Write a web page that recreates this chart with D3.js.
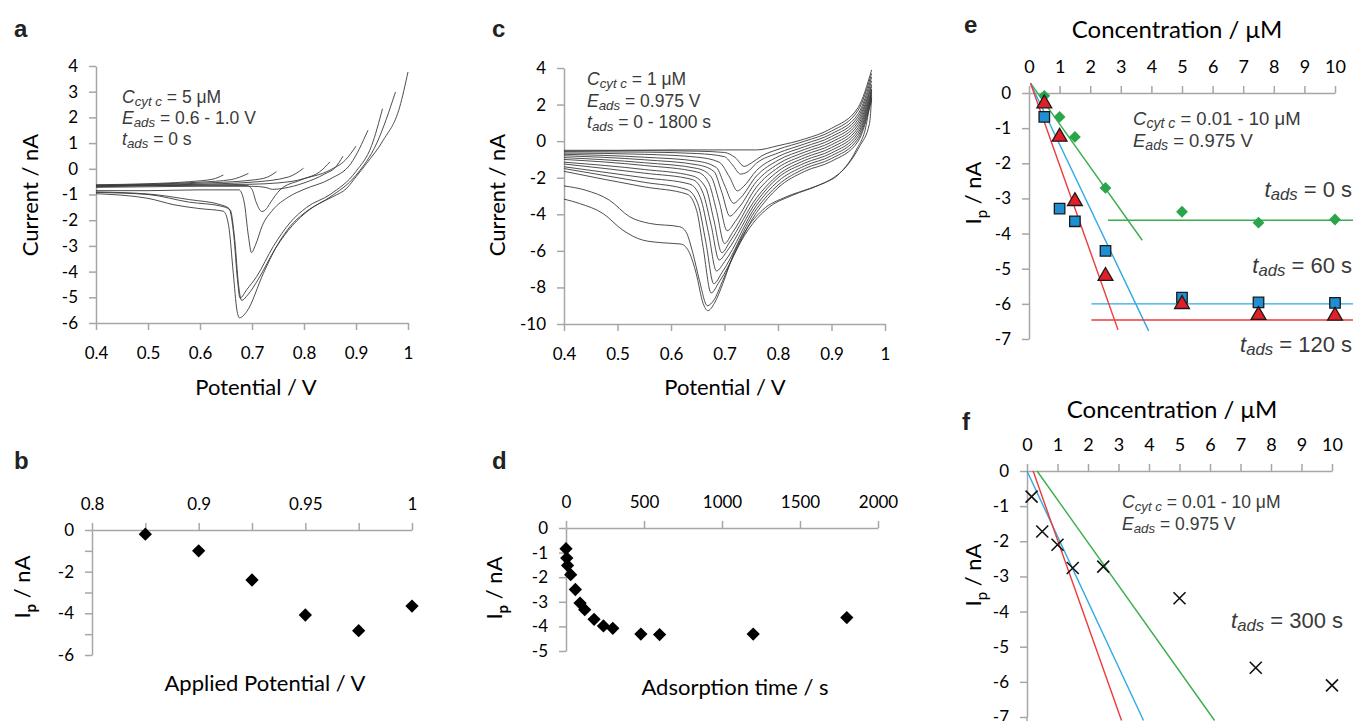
<!DOCTYPE html>
<meta charset="utf-8">
<script src="https://cdn.jsdelivr.net/npm/d3@7"></script>
<style>
body { margin: 0; background: #fff; }
.ax path, .ax line { stroke: #a6a6a6; stroke-width: 1.5px; }
.ax text { font-family: Lato, sans-serif; font-size: 17px; fill: #000; }
.cv { fill: none; stroke: #3a3a3a; stroke-width: 0.9px; }
.ttl { font-family: Lato, sans-serif; font-size: 22px; fill: #000; }
.note { font-family: "Liberation Sans", Arial, sans-serif; fill: #3a3a3a; }
.lbl { font-family: "Liberation Sans", Arial, sans-serif; font-weight: bold; font-size: 24px; fill: #222; }
</style>
<body>
<script>

// ---- panel a : CVs, Eads 0.65 .. 1.0 V (potential V, current nA)
var curvesA = [
  [[0.4,-0.62],[0.5,-0.58],[0.58,-0.5],[0.625,-0.4],[0.645,-0.24]],
  [[0.4,-0.64],[0.5,-0.6],[0.6,-0.52],[0.66,-0.42],[0.693,-0.18]],
  [[0.4,-0.66],[0.5,-0.62],[0.6,-0.56],[0.7,-0.44],[0.73,-0.32],[0.747,-0.11]],
  [[0.4,-0.68],[0.5,-0.64],[0.6,-0.6],[0.7,-0.52],[0.77,-0.32],[0.799,0.02]],
  [[0.4,-0.7],[0.5,-0.66],[0.6,-0.63],[0.7,-0.6],[0.75,-0.55],[0.8,-0.38],[0.83,-0.12],[0.85,0.27]],
  [[0.4,-0.72],[0.5,-0.7],[0.6,-0.68],[0.7,-0.68],[0.725,-0.72],[0.74,-0.8],[0.76,-0.76],[0.8,-0.55],[0.84,-0.2],[0.86,0.05],[0.875,0.49]],
  [[0.4,-0.66],[0.5,-0.65],[0.6,-0.64],[0.69,-0.65],[0.7,-0.8],[0.708,-1.3],[0.719,-1.66],[0.728,-1.55],[0.735,-1.33],[0.754,-0.82],[0.792,-0.45],[0.85,-0.05],[0.88,0.35],[0.9,0.88]],
  [[0.4,-0.85],[0.5,-0.85],[0.6,-0.82],[0.675,-0.82],[0.685,-1.3],[0.693,-2.6],[0.699,-3.26],[0.706,-3.0],[0.72,-2.2],[0.74,-1.6],[0.77,-1.1],[0.8,-0.8],[0.85,-0.4],[0.89,0.2],[0.923,1.5]],
  [[0.4,-0.9],[0.5,-0.98],[0.58,-1.2],[0.64,-1.4],[0.656,-1.55],[0.665,-2.6],[0.672,-4.3],[0.677,-5.03],[0.69,-4.7],[0.709,-4.19],[0.741,-3.02],[0.773,-2.1],[0.805,-1.5],[0.85,-1.0],[0.9,-0.1],[0.93,0.9],[0.951,2.34]],
  [[0.4,-0.92],[0.5,-1.0],[0.58,-1.3],[0.64,-1.45],[0.658,-1.6],[0.667,-2.8],[0.674,-4.5],[0.68,-5.12],[0.692,-4.9],[0.712,-4.3],[0.745,-3.1],[0.778,-2.2],[0.81,-1.6],[0.85,-1.1],[0.9,-0.25],[0.94,1.0],[0.976,2.99]],
  [[0.4,-0.97],[0.5,-1.15],[0.55,-1.4],[0.6,-1.55],[0.645,-1.65],[0.655,-2.2],[0.664,-4.06],[0.671,-5.5],[0.676,-5.8],[0.69,-5.55],[0.722,-4.06],[0.747,-3.03],[0.773,-2.25],[0.8,-1.73],[0.83,-1.34],[0.856,-1.08],[0.882,-0.76],[0.9,-0.31],[0.92,0.2],[0.952,1.1],[0.984,2.4],[1.0,3.77]]
];

// ---- panel c : CVs, tads 0 .. 1800 s
var curvesC = [
  [[0.4,-0.5],[0.5,-0.5],[0.6,-0.48],[0.7,-0.48],[0.76,-0.48],[0.8,-0.25],[0.85,0.12],[0.9,0.7],[0.95,1.85],[0.975,3.9]],
  [[0.4,-0.55],[0.55,-0.52],[0.65,-0.55],[0.7,-0.62],[0.72,-0.9],[0.737,-1.38],[0.75,-1.2],[0.77,-0.8],[0.8,-0.45],[0.85,0.0],[0.9,0.55],[0.95,1.7],[0.975,3.7]],
  [[0.4,-0.58],[0.55,-0.6],[0.65,-0.68],[0.7,-0.85],[0.715,-1.3],[0.73,-1.8],[0.742,-1.7],[0.76,-1.2],[0.8,-0.65],[0.85,-0.15],[0.9,0.4],[0.95,1.5],[0.975,3.5]],
  [[0.4,-0.65],[0.55,-0.72],[0.65,-0.88],[0.69,-1.15],[0.71,-2.0],[0.724,-2.72],[0.735,-2.5],[0.76,-1.6],[0.8,-0.85],[0.85,-0.3],[0.9,0.25],[0.95,1.35],[0.975,3.3]],
  [[0.4,-0.72],[0.55,-0.88],[0.65,-1.1],[0.685,-1.45],[0.7,-2.4],[0.717,-3.4],[0.73,-3.1],[0.76,-1.9],[0.8,-1.05],[0.85,-0.45],[0.9,0.1],[0.95,1.2],[0.975,3.1]],
  [[0.4,-0.8],[0.55,-1.02],[0.65,-1.3],[0.68,-1.65],[0.695,-2.8],[0.71,-4.1],[0.725,-3.7],[0.76,-2.2],[0.8,-1.25],[0.85,-0.6],[0.9,-0.05],[0.95,1.05],[0.975,3.0]],
  [[0.4,-0.9],[0.55,-1.18],[0.65,-1.5],[0.675,-1.95],[0.69,-3.3],[0.705,-4.9],[0.72,-4.4],[0.76,-2.5],[0.8,-1.45],[0.85,-0.75],[0.9,-0.2],[0.95,0.9],[0.975,2.85]],
  [[0.4,-1.0],[0.55,-1.33],[0.65,-1.7],[0.67,-2.25],[0.685,-3.8],[0.7,-5.6],[0.715,-5.0],[0.76,-2.8],[0.8,-1.65],[0.85,-0.9],[0.9,-0.35],[0.95,0.75],[0.975,2.75]],
  [[0.4,-1.15],[0.55,-1.55],[0.64,-1.9],[0.665,-2.55],[0.68,-4.3],[0.695,-6.1],[0.71,-5.5],[0.76,-3.1],[0.8,-1.85],[0.85,-1.05],[0.9,-0.5],[0.95,0.6],[0.975,2.65]],
  [[0.4,-1.25],[0.55,-1.75],[0.64,-2.1],[0.66,-2.85],[0.675,-4.6],[0.69,-6.5],[0.705,-6.0],[0.76,-3.3],[0.8,-2.0],[0.85,-1.2],[0.9,-0.65],[0.95,0.45],[0.975,2.55]],
  [[0.4,-1.4],[0.55,-2.0],[0.635,-2.35],[0.655,-3.1],[0.67,-5.0],[0.685,-7.1],[0.7,-6.6],[0.76,-3.5],[0.8,-2.2],[0.85,-1.35],[0.9,-0.8],[0.95,0.3],[0.975,2.45]],
  [[0.4,-1.5],[0.55,-2.25],[0.63,-2.65],[0.65,-3.4],[0.665,-5.5],[0.68,-7.8],[0.695,-7.2],[0.76,-3.7],[0.8,-2.4],[0.85,-1.5],[0.9,-0.95],[0.95,0.15],[0.975,2.35]],
  [[0.4,-1.65],[0.55,-2.5],[0.63,-2.9],[0.648,-3.8],[0.66,-5.8],[0.675,-8.3],[0.69,-7.7],[0.76,-3.9],[0.8,-2.55],[0.85,-1.65],[0.9,-1.1],[0.95,0.0],[0.975,2.25]],
  [[0.4,-2.45],[0.44,-2.68],[0.485,-3.23],[0.523,-4.14],[0.56,-4.5],[0.616,-4.68],[0.628,-4.96],[0.641,-6.14],[0.653,-7.6],[0.668,-9.0],[0.68,-8.7],[0.697,-7.6],[0.722,-5.96],[0.753,-4.5],[0.784,-3.6],[0.828,-2.95],[0.877,-2.4],[0.915,-1.77],[0.946,-0.49],[0.965,0.9],[0.975,2.8]],
  [[0.4,-3.17],[0.429,-3.41],[0.473,-3.96],[0.51,-4.87],[0.547,-5.41],[0.585,-5.56],[0.619,-5.63],[0.635,-6.14],[0.647,-7.23],[0.66,-8.87],[0.669,-9.27],[0.681,-8.87],[0.697,-7.78],[0.715,-6.32],[0.74,-4.87],[0.771,-3.77],[0.815,-3.05],[0.859,-2.59],[0.896,-2.14],[0.927,-1.41],[0.952,-0.31],[0.971,0.96],[0.975,2.4]]
];

var ticksAX = [0.4, 0.5, 0.6, 0.7, 0.8, 0.9, 1];
var ticksAY = [4, 3, 2, 1, 0, -1, -2, -3, -4, -5, -6];
var ticksCY = [4, 2, 0, -2, -4, -6, -8, -10];

// ---- panel b : peak current vs applied potential
var eadsB = ["0.8", "0.875", "0.9", "0.925", "0.95", "0.975", "1"];
var ipB = [null, -0.2, -1.0, -2.4, -4.08, -4.83, -3.65];
var ticksBY = [0, -1, -2, -3, -4, -5, -6];

// ---- panel d : peak current vs adsorption time
var tadsD = [0, 5, 10, 30, 60, 90, 120, 180, 240, 300, 480, 600, 1200, 1800];
var ipD = [-0.84, -1.22, -1.52, -1.9, -2.5, -3.05, -3.32, -3.71, -3.98, -4.08, -4.31, -4.33, -4.31, -3.64];
var ticksDX = [0, 500, 1000, 1500, 2000];
var ticksDY = [0, -1, -2, -3, -4, -5];

// ---- panel e : calibration, tads 0 / 60 / 120 s
var concE = [0.5, 1, 1.5, 2.5, 5, 7.5, 10];
var ipE0 = [-0.08, -0.68, -1.25, -2.7, -3.38, -3.69, -3.6];
var ipE60 = [-0.68, -3.29, -3.65, -4.49, -5.82, -5.96, -5.97];
var ipE120 = [-0.3, -1.25, -3.08, -5.21, -6.01, -6.32, -6.34];
var fitE0 = [[0.05, 0.28], [3.7, -4.19]], flatE0 = [[2.58, -3.62], [10.6, -3.62]];
var fitE60 = [[0.05, 0.27], [3.91, -6.77]], flatE60 = [[2.04, -6.0], [10.6, -6.0]];
var fitE120 = [[0.05, 0.28], [2.91, -6.74]], flatE120 = [[2.04, -6.46], [10.6, -6.46]];

// ---- panel f : tads 300 s
var concF = [0.15, 0.5, 1, 1.5, 2.5, 5, 7.5, 10];
var ipF = [-0.73, -1.72, -2.1, -2.76, -2.72, -3.62, -5.6, -6.1];
var fitF0 = [[0.33, 0], [6.15, -7.1]];
var fitF60 = [[0, 0], [3.82, -7.1]];
var fitF120 = [[0.2, 0], [3.1, -7.1]];

var ticksConc = [0, 1, 2, 3, 4, 5, 6, 7, 8, 9, 10];
var ticksIp = [0, -1, -2, -3, -4, -5, -6, -7];

var green = "#2aa54b", greenLine = "#3aad4c";
var blue = "#1e8fd3", blueLine = "#2eaae2";
var red = "#e41e26", redLine = "#ec3b3b";

var svg = d3.select("body").append("svg")
    .attr("width", 1353)
    .attr("height", 721);

var fmt = function(d) { return String(d); };

function leftAxis(x0, y, ticks, f) {
  svg.append("g").attr("class", "ax")
    .attr("transform", "translate(" + x0 + ",0)")
    .call(d3.axisLeft(y).tickValues(ticks).tickSize(7).tickPadding(11).tickSizeOuter(0).tickFormat(f || fmt));
}
function topAxis(y0, x, ticks, f, size) {
  var g = svg.append("g").attr("class", "ax")
    .attr("transform", "translate(0," + y0 + ")")
    .call(d3.axisTop(x).tickValues(ticks).tickSize(7).tickPadding(13).tickSizeOuter(0).tickFormat(f || fmt));
  if (size) g.selectAll("text").style("font-size", size + "px");
}
function bottomAxis(y0, x, ticks) {
  svg.append("g").attr("class", "ax")
    .attr("transform", "translate(0," + y0 + ")")
    .call(d3.axisBottom(x).tickValues(ticks).tickSize(7).tickPadding(17).tickSizeOuter(0).tickFormat(fmt));
}

// text with italic / subscript pieces: [text, italic, sub]
function note(x, y, size, parts, anchor) {
  var t = svg.append("text").attr("class", "note")
      .attr("x", x).attr("y", y).style("font-size", size + "px")
      .attr("text-anchor", anchor || "start");
  var down = false;
  parts.forEach(function(p) {
    var s = t.append("tspan").text(p[0]);
    if (p[1]) s.style("font-style", "italic");
    if (p[2]) {
      s.style("font-size", (size * 0.76) + "px");
      if (!down) { s.attr("dy", size * 0.15); down = true; }
    } else if (down) { s.attr("dy", -size * 0.15); down = false; }
  });
  return t;
}

function title(x, y, txt, rot) {
  var t = svg.append("text").attr("class", "ttl")
    .attr("text-anchor", "middle")
    .attr("transform", "translate(" + x + "," + y + ")" + (rot ? " rotate(-90)" : ""));
  t.text(txt);
  return t;
}
function ipTitle(x, y, boldP) {
  var t = svg.append("text").attr("class", "ttl")
    .attr("text-anchor", "middle")
    .attr("transform", "translate(" + x + "," + y + ") rotate(-90)");
  t.append("tspan").text("I");
  t.append("tspan").text("p").attr("dy", 6).style("font-size", "15px").style("font-weight", boldP ? "bold" : null);
  t.append("tspan").text(" / nA").attr("dy", -6);
}
function label(x, y, s) {
  svg.append("text").attr("class", "lbl").attr("x", x).attr("y", y).text(s);
}

// ===== panel a
var xA = d3.scaleLinear().domain([0.4, 1]).range([96, 408]);
var yA = d3.scaleLinear().domain([-6, 4]).range([323, 66]);
leftAxis(96, yA, ticksAY);
bottomAxis(323, xA, ticksAX);
var lineA = d3.line().x(function(d) { return xA(d[0]); }).y(function(d) { return yA(d[1]); }).curve(d3.curveMonotoneX);
svg.append("g").selectAll("path").data(curvesA).enter().append("path")
  .attr("class", "cv").attr("d", lineA);
title(38, 195, "Current / nA", true);
title(256, 395, "Potential / V");
note(122, 103, 17.5, [["C", 1], ["cyt c", 1, 1], [" = 5 μM"]]);
note(122, 124, 17.5, [["E", 1], ["ads", 1, 1], [" = 0.6 - 1.0 V"]]);
note(122, 145, 17.5, [["t", 1], ["ads", 1, 1], [" = 0 s"]]);
label(14, 37, "a");

// ===== panel c
var xC = d3.scaleLinear().domain([0.4, 1]).range([564, 885]);
var yC = d3.scaleLinear().domain([-10, 4]).range([324, 68]);
leftAxis(564, yC, ticksCY);
bottomAxis(324, xC, ticksAX);
var lineC = d3.line().x(function(d) { return xC(d[0]); }).y(function(d) { return yC(d[1]); }).curve(d3.curveMonotoneX);
svg.append("g").selectAll("path").data(curvesC).enter().append("path")
  .attr("class", "cv").attr("d", lineC);
title(505, 195, "Current / nA", true);
title(725, 395, "Potential / V");
note(587, 85, 17.5, [["C", 1], ["cyt c", 1, 1], [" = 1 μM"]]);
note(587, 107, 17.5, [["E", 1], ["ads", 1, 1], [" = 0.975 V"]]);
note(587, 128, 17.5, [["t", 1], ["ads", 1, 1], [" = 0 - 1800 s"]]);
label(492, 37, "c");

// ===== panel b
var xB = d3.scalePoint().domain(eadsB).range([92, 412]);
var yB = d3.scaleLinear().domain([-6, 0]).range([655, 530]);
leftAxis(92, yB, ticksBY, function(d) { return d % 2 === 0 ? String(d) : ""; });
topAxis(530, xB, eadsB, function(d, i) { return i % 2 === 0 ? d : ""; });
var diamond = d3.symbol().type(d3.symbolSquare).size(88);
svg.append("g").selectAll("path").data(eadsB.filter(function(d, i) { return ipB[i] !== null; }))
  .enter().append("path")
  .attr("d", diamond)
  .attr("transform", function(d) { return "translate(" + xB(d) + "," + yB(ipB[eadsB.indexOf(d)]) + ") rotate(45)"; })
  .attr("fill", "#000");
ipTitle(30, 587, true);
title(265, 691, "Applied Potential / V");
label(14, 469, "b");

// ===== panel d
var xD = d3.scaleLinear().domain([0, 2000]).range([566, 878]);
var yD = d3.scaleLinear().domain([-5, 0]).range([651, 528]);
leftAxis(566, yD, ticksDY);
topAxis(528, xD, ticksDX);
svg.append("g").selectAll("path").data(tadsD).enter().append("path")
  .attr("d", diamond)
  .attr("transform", function(d, i) { return "translate(" + xD(d) + "," + yD(ipD[i]) + ") rotate(45)"; })
  .attr("fill", "#000");
ipTitle(502, 588, true);
title(735, 695, "Adsorption time / s");
label(492, 469, "d");

// ===== panel e
var xE = d3.scaleLinear().domain([0, 10]).range([1029, 1335]);
var yE = d3.scaleLinear().domain([-7, 0]).range([339, 93]);
leftAxis(1029, yE, ticksIp);
topAxis(93, xE, ticksConc, null, 18);
var lineE = d3.line().x(function(d) { return xE(d[0]); }).y(function(d) { return yE(d[1]); });
[[fitE0, greenLine], [flatE0, greenLine], [fitE60, blueLine], [flatE60, blueLine], [fitE120, redLine], [flatE120, redLine]]
  .forEach(function(f) {
    svg.append("path").attr("d", lineE(f[0])).attr("fill", "none").attr("stroke", f[1]).attr("stroke-width", 1.4);
  });
svg.append("g").selectAll("path").data(concE).enter().append("path")
  .attr("d", d3.symbol().type(d3.symbolSquare).size(70))
  .attr("transform", function(d, i) { return "translate(" + xE(d) + "," + yE(ipE0[i]) + ") rotate(45)"; })
  .attr("fill", green);
svg.append("g").selectAll("path").data(concE).enter().append("path")
  .attr("d", d3.symbol().type(d3.symbolSquare).size(110))
  .attr("transform", function(d, i) { return "translate(" + xE(d) + "," + yE(ipE60[i]) + ")"; })
  .attr("fill", blue).attr("stroke", "#1a1a1a").attr("stroke-width", 1.3);
svg.append("g").selectAll("path").data(concE).enter().append("path")
  .attr("d", d3.symbol().type(d3.symbolTriangle).size(95))
  .attr("transform", function(d, i) { return "translate(" + xE(d) + "," + yE(ipE120[i]) + ")"; })
  .attr("fill", red).attr("stroke", "#1a1a1a").attr("stroke-width", 1.3);
title(1177, 38, "Concentration / μM").style("font-size", "24px");
ipTitle(981, 193, false);
note(1133, 125, 18.5, [["C", 1], ["cyt c", 1, 1], [" = 0.01 - 10 μM"]]);
note(1133, 147, 18.5, [["E", 1], ["ads", 1, 1], [" = 0.975 V"]]);
note(1352, 197, 22, [["t", 1], ["ads", 1, 1], [" = 0 s"]], "end");
note(1352, 273, 22, [["t", 1], ["ads", 1, 1], [" = 60 s"]], "end");
note(1352, 352, 22, [["t", 1], ["ads", 1, 1], [" = 120 s"]], "end");
label(964, 33, "e");

// ===== panel f
var xF = d3.scaleLinear().domain([0, 10]).range([1027, 1332]);
var yF = d3.scaleLinear().domain([-7, 0]).range([717, 471]);
svg.append("g").attr("class", "ax").attr("transform", "translate(1027,0)")
  .call(d3.axisLeft(yF).tickValues(ticksIp).tickSize(7).tickPadding(11).tickSizeOuter(0).tickFormat(fmt));
svg.append("line").attr("x1", 1027).attr("x2", 1027).attr("y1", 717).attr("y2", 721)
  .attr("stroke", "#a6a6a6").attr("stroke-width", 1.5);
topAxis(471, xF, ticksConc, null, 18);
var lineF = d3.line().x(function(d) { return xF(d[0]); }).y(function(d) { return yF(d[1]); });
[[fitF0, greenLine], [fitF60, blueLine], [fitF120, redLine]].forEach(function(f) {
  svg.append("path").attr("d", lineF(f[0])).attr("fill", "none").attr("stroke", f[1]).attr("stroke-width", 1.4);
});
svg.append("g").selectAll("path").data(concF).enter().append("path")
  .attr("d", "M-6,-6L6,6M-6,6L6,-6")
  .attr("transform", function(d, i) { return "translate(" + xF(d) + "," + yF(ipF[i]) + ")"; })
  .attr("fill", "none").attr("stroke", "#111").attr("stroke-width", 1.6);
title(1172, 418, "Concentration / μM").style("font-size", "24px");
ipTitle(981, 575, false);
note(1122, 508, 17.5, [["C", 1], ["cyt c", 1, 1], [" = 0.01 - 10 μM"]]);
note(1122, 530, 17.5, [["E", 1], ["ads", 1, 1], [" = 0.975 V"]]);
note(1343, 628, 22, [["t", 1], ["ads", 1, 1], [" = 300 s"]], "end");
label(962, 430, "f");

</script>
</body>
</html>
